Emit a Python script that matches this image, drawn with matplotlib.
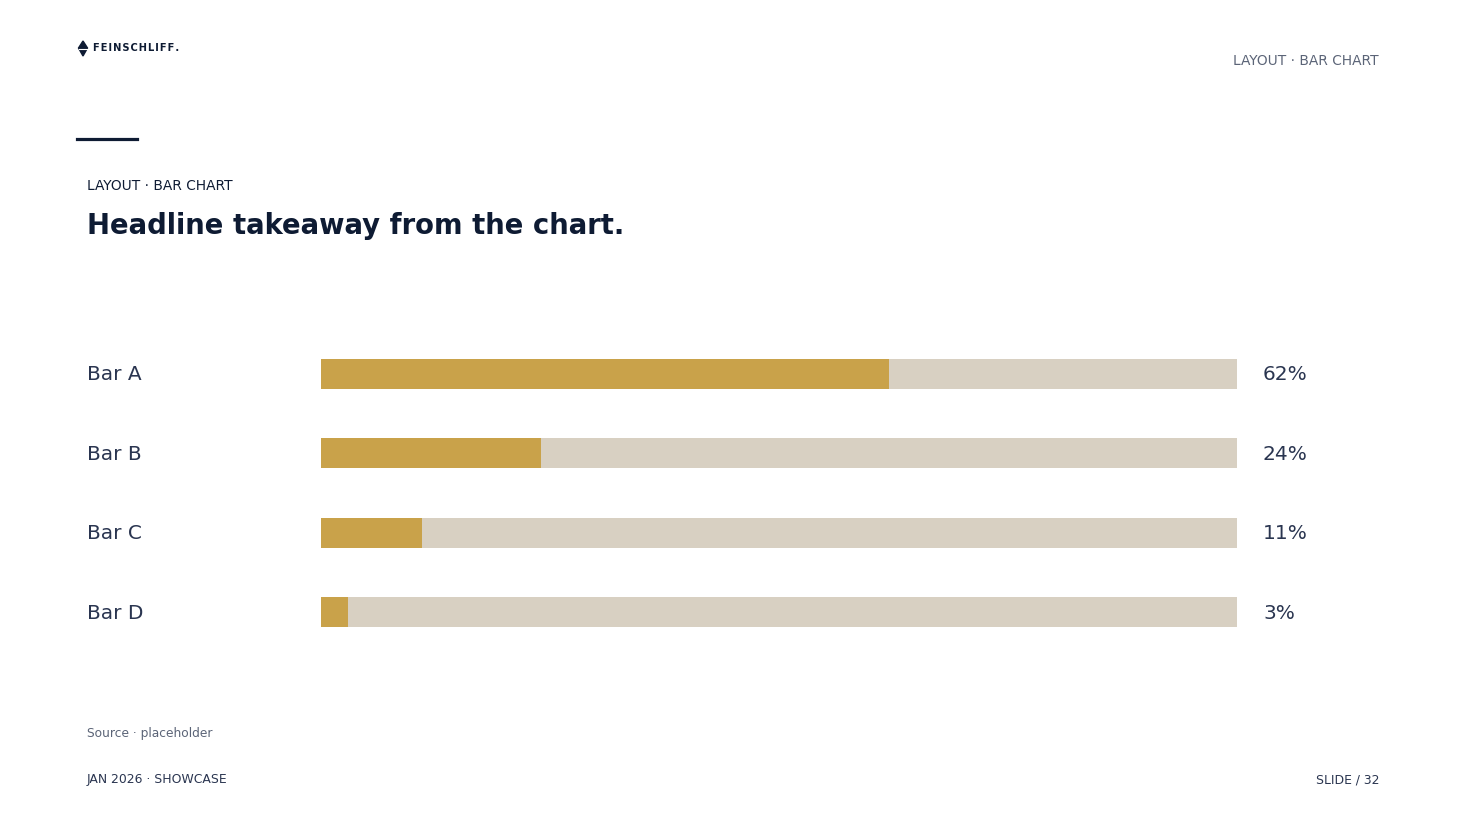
import matplotlib.pyplot as plt
from matplotlib.patches import Polygon
from matplotlib.lines import Line2D

labels = ["Bar A", "Bar B", "Bar C", "Bar D"]
values = [62, 24, 11, 3]
pct_labels = ["62%", "24%", "11%", "3%"]

W, H = 1467, 825
NAVY = "#0E1B33"
TEXT = "#2A3550"
GRAY = "#5B6477"
GOLD = "#C9A24A"
TRACK = "#D8D0C2"

fig = plt.figure(figsize=(W / 100, H / 100), dpi=100)
fig.patch.set_facecolor("white")

def fx(px):
    return px / W

def fy(py):
    return 1 - py / H

# bar panel, pixel box left 321 -> 1237, top 334 -> bottom 652
ax = fig.add_axes([fx(321), fy(652), fx(1237) - fx(321), fy(334) - fy(652)])
y = list(range(len(labels)))
ax.barh(y, [100] * len(values), height=0.38, color=TRACK)
ax.barh(y, values, height=0.38, color=GOLD)
ax.set_xlim(0, 100)
ax.set_ylim(len(labels) - 0.5, -0.5)
ax.axis("off")

for i, (lab, p) in enumerate(zip(labels, pct_labels)):
    ax.annotate(lab, xy=(fx(87), i + 0.012), xycoords=("figure fraction", "data"),
                fontsize=14.5, color=TEXT, va="center", ha="left")
    ax.annotate(p, xy=(fx(1263), i + 0.012), xycoords=("figure fraction", "data"),
                fontsize=14.5, color=TEXT, va="center", ha="left")

# header
logo = Polygon([[fx(83), fy(41)], [fx(87.5), fy(48)], [fx(83), fy(56)], [fx(78.5), fy(48)]],
               closed=True, transform=fig.transFigure, color=NAVY)
fig.patches.append(logo)
fig.add_artist(Line2D([fx(79), fx(87)], [fy(48.5), fy(48.5)], color="white", lw=0.8,
                      transform=fig.transFigure))
fig.text(fx(93), fy(48), "\u200a".join("FEINSCHLIFF."), fontsize=7.1, color=NAVY,
         va="center", ha="left", fontweight="bold")
fig.text(fx(1379), fy(61), "LAYOUT · BAR CHART", fontsize=9.9, color=GRAY, va="center", ha="right")

fig.add_artist(Line2D([fx(77), fx(137)], [fy(138.5), fy(138.5)], color=NAVY, lw=2.3,
                      transform=fig.transFigure))
fig.text(fx(87), fy(186), "LAYOUT · BAR CHART", fontsize=9.9, color=NAVY, va="center", ha="left")
fig.text(fx(87), fy(226), "Headline takeaway from the chart.", fontsize=19.8, color=NAVY,
         va="center", ha="left", fontweight="bold")

# footer
fig.text(fx(87), fy(734), "Source · placeholder", fontsize=8.8, color=GRAY, va="center", ha="left")
fig.text(fx(87), fy(780), "JAN 2026 · SHOWCASE", fontsize=8.9, color=TEXT, va="center", ha="left")
fig.text(fx(1379), fy(780), "SLIDE / 32", fontsize=8.9, color=TEXT, va="center", ha="right")

fig.savefig("out.png", dpi=100, facecolor="white")
